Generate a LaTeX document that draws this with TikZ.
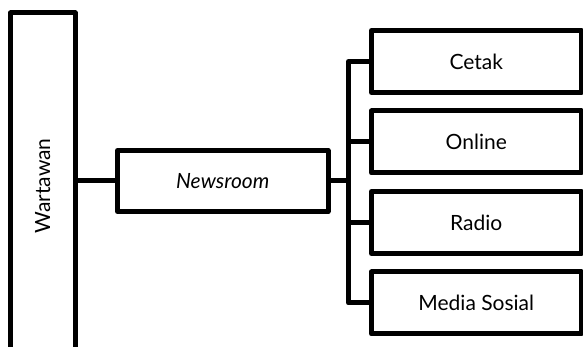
\documentclass[tikz,border=0pt]{standalone}
\usepackage{fontspec}
\setmainfont{Lato}
\usepackage{tikz}
\usetikzlibrary{positioning}

\begin{document}
\begin{tikzpicture}[x=1pt, y=1pt, node distance=18.5pt,
    every node/.style={draw, line width=5pt, line join=round, outer sep=0pt,
        inner sep=0pt, font=\fontsize{21}{25}\selectfont},
    media/.style={minimum width=209.5pt, minimum height=62pt}]
    \useasboundingbox (0,0) rectangle (583,347);
    \clip (0,0) rectangle (583,347);

    \node (wartawan) [minimum width=64.5pt, minimum height=346pt] at (42.75,161) {\rotatebox{90}{Wartawan}};
    \node (newsroom) [right=42.5pt of wartawan, yshift=5pt, minimum width=210.5pt, minimum height=61pt] {\itshape Newsroom};

    \node (cetak) [media] at (476.25,285.5) {Cetak};
    \node (online) [media, below=of cetak] {Online};
    \node (radio) [media, below=of online] {Radio};
    \node (medsos) [media, below=of radio] {Media Sosial};

    \coordinate (bus) at (348.5,0);

    \draw[line width=5pt] (wartawan.east |- newsroom.west) -- (newsroom.west);
    \draw[line width=5pt] (newsroom.east) -- (bus |- newsroom.east);
    \draw[line width=5pt, line join=round] (cetak.west) -| (bus |- medsos.west) -- (medsos.west);
    \draw[line width=5pt] (online.west) -- (bus |- online.west);
    \draw[line width=5pt] (radio.west) -- (bus |- radio.west);
\end{tikzpicture}
\end{document}
